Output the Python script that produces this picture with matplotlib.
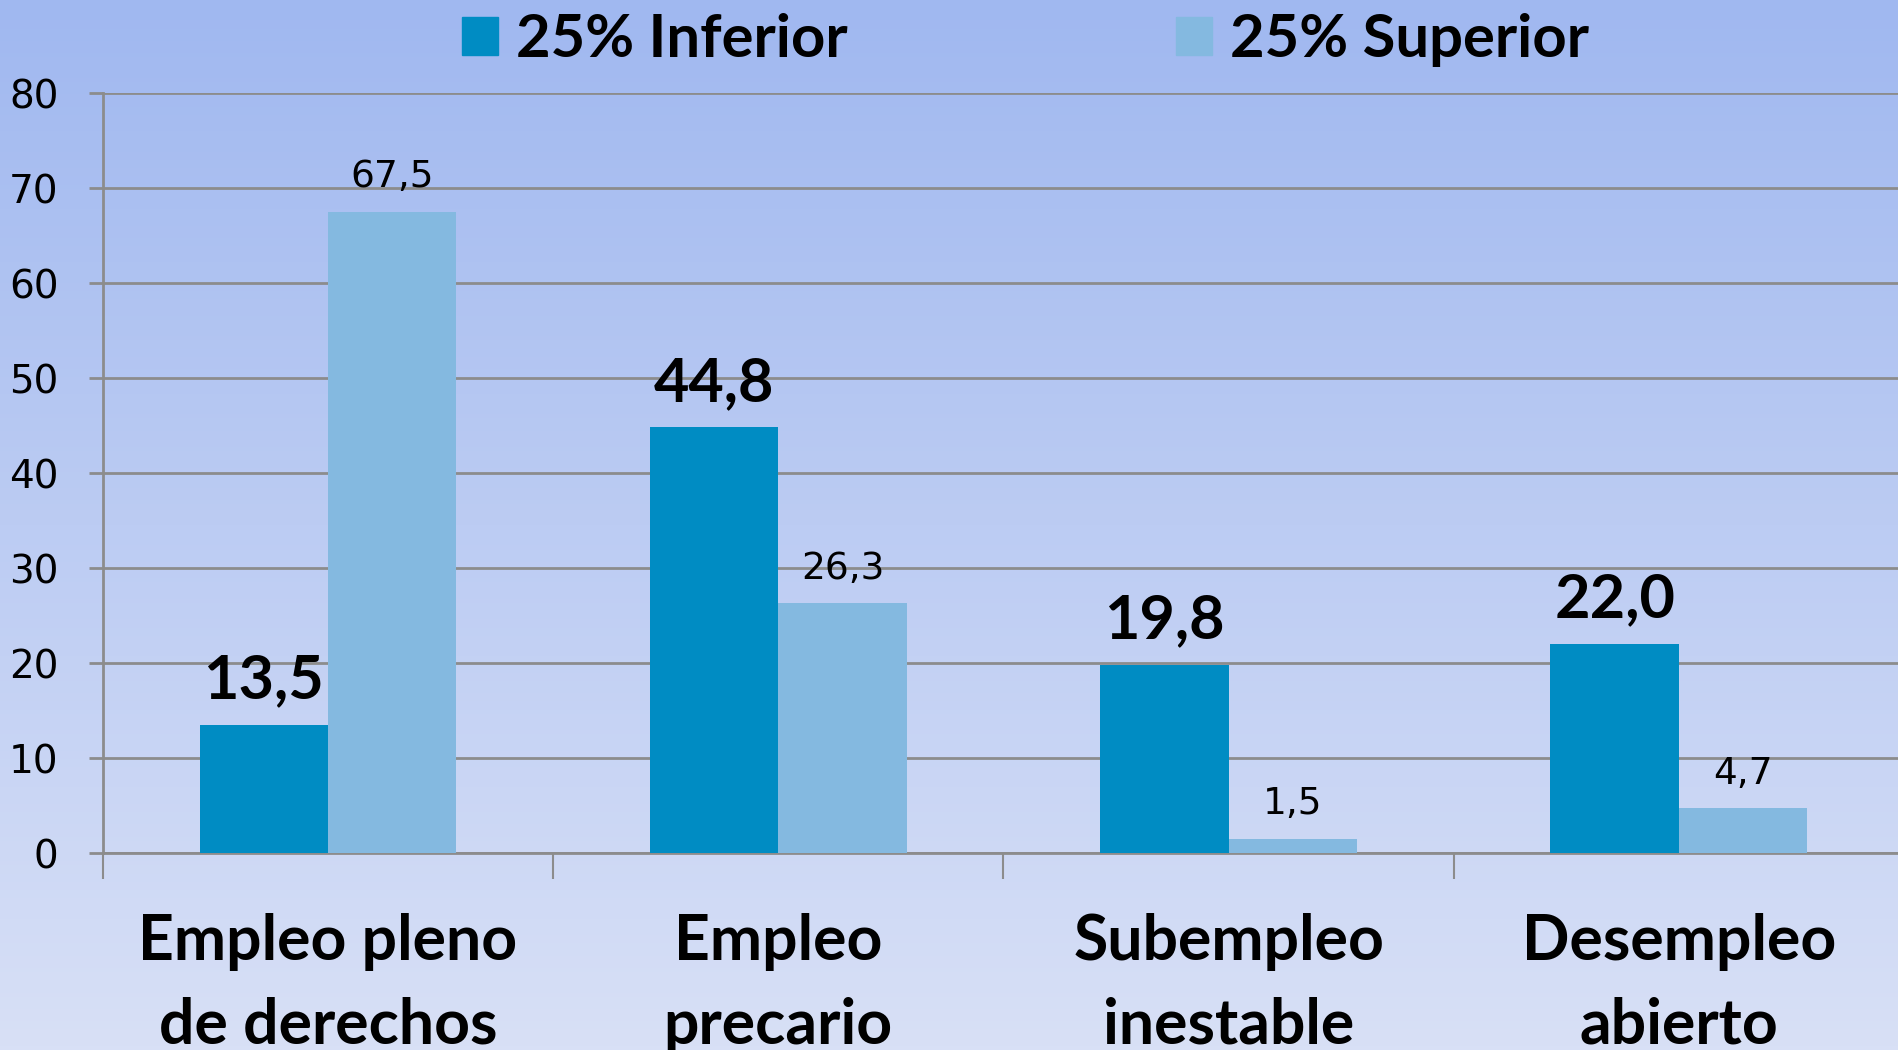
import numpy as np
import matplotlib.pyplot as plt
from matplotlib.patches import Patch

categories = ['Empleo pleno\nde derechos', 'Empleo\nprecario', 'Subempleo\ninestable', 'Desempleo\nabierto']
inferior = [13.5, 44.8, 19.8, 22.0]
superior = [67.5, 26.3, 1.5, 4.7]
series_names = ['25% Inferior', '25% Superior']
yticks = [0, 10, 20, 30, 40, 50, 60, 70, 80]

col_inf = '#008CC3'
col_sup = '#84B9E0'
grid_col = '#8C8C8C'

fig = plt.figure(figsize=(18.99, 10.5), dpi=100)

# background gradient
bg = fig.add_axes([0, 0, 1, 1], zorder=-10)
top = np.array([160, 184, 240]) / 255
bot = np.array([216, 224, 246]) / 255
t = np.linspace(0, 1, 256)[:, None]
grad = top * (1 - t) + bot * t
bg.imshow(grad[:, None, :], aspect='auto', extent=[0, 1, 0, 1])
bg.axis('off')

ax = fig.add_axes([0.0542, 0.1876, 0.9484, 0.7238])
ax.patch.set_alpha(0)

x = np.arange(len(categories))
w = 0.285
b1 = ax.bar(x - w / 2, inferior, w, color=col_inf, zorder=3)
b2 = ax.bar(x + w / 2, superior, w, color=col_sup, zorder=3)

ax.set_xlim(-0.5, len(categories) - 0.5)
ax.set_ylim(0, 80)
ax.set_yticks(yticks)
ax.set_yticklabels([str(v) for v in yticks], fontsize=28, family='DejaVu Sans')
ax.yaxis.grid(True, color=grid_col, linewidth=2, zorder=0)
ax.tick_params(axis='y', length=10, width=2, color=grid_col, pad=22)

ax.set_xticks(np.arange(len(categories) + 1) - 0.5)
ax.set_xticklabels([])
ax.tick_params(axis='x', length=19, width=1.5, color=grid_col)

for s in ['top', 'right']:
    ax.spines[s].set_visible(False)
ax.spines['left'].set_color(grid_col)
ax.spines['left'].set_linewidth(2)
ax.spines['bottom'].set_color(grid_col)
ax.spines['bottom'].set_linewidth(2)

for i, c in enumerate(categories):
    ax.text(i, -0.172, c, transform=ax.get_xaxis_transform(), ha='center', va='center',
            fontsize=45, fontweight='bold', family='Lato', linespacing=1.55)

for rect, v in zip(b1, inferior):
    ax.annotate(f'{v:.1f}'.replace('.', ','), (rect.get_x() + rect.get_width() / 2, v),
                xytext=(0, 12), textcoords='offset points', ha='center', va='bottom',
                fontsize=44, fontweight='bold', family='Lato')
for rect, v in zip(b2, superior):
    ax.annotate(f'{v:.1f}'.replace('.', ','), (rect.get_x() + rect.get_width() / 2, v),
                xytext=(0, 12), textcoords='offset points', ha='center', va='bottom',
                fontsize=27, family='DejaVu Sans')

handles = [Patch(color=col_inf), Patch(color=col_sup)]
fig.legend(handles, series_names, loc='center', bbox_to_anchor=(0.54, 0.962), ncol=2,
           frameon=False, prop={'family': 'Lato', 'weight': 'bold', 'size': 43},
           handlelength=0.6, handleheight=0.6, handletextpad=0.3, columnspacing=5.5)

fig.savefig('out.png', dpi=100)
